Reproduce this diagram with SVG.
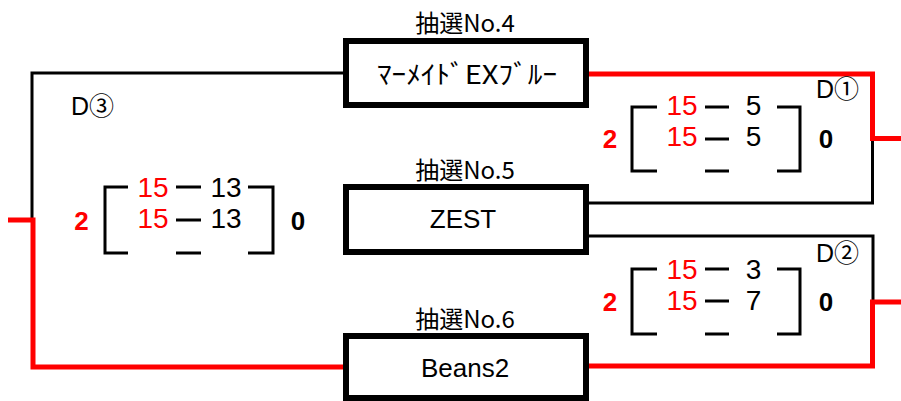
<svg xmlns="http://www.w3.org/2000/svg" width="901" height="401" viewBox="0 0 901 401">
<style>
.box{fill:#fff;stroke:#000;stroke-width:6}
.lbl{font-family:"Noto Sans CJK JP","Liberation Sans",sans-serif;font-size:24px;fill:#000;text-anchor:middle}
.name{font-family:"Liberation Sans","Noto Sans CJK JP",sans-serif;font-size:26px;fill:#000;text-anchor:middle}
.kana{font-family:"Noto Sans CJK JP",sans-serif;font-size:26px;fill:#000;text-anchor:middle}
.blk{fill:none;stroke:#000;stroke-width:3}
.red{fill:none;stroke:#ff0000;stroke-width:5}
.br{fill:none;stroke:#000;stroke-width:3}
.sc{font-family:"Liberation Sans",sans-serif;font-size:28px;text-anchor:middle}
.sr{fill:#ff0000}
.sb{fill:#000}
.tot{font-family:"Liberation Sans",sans-serif;font-size:26px;font-weight:bold;text-anchor:middle}
.d{font-family:"Liberation Sans","Noto Sans CJK JP",sans-serif;font-size:25px;fill:#000}
</style>
<g id="connectors">
<path class="blk" d="M343,73 H32 V219"/>
<path class="red" d="M8,220 H33 V367 H343"/>
<path class="red" d="M589,74 H872.5 V138.5 H901"/>
<path class="blk" d="M872.5,141 V203 H589"/>
<path class="blk" d="M589,236 H873 V300"/>
<path class="red" d="M901,302 H872.5 V366 H589"/>
</g>
<g id="node-no4">
<rect class="box" x="346" y="41" width="240" height="64"/>
<text class="lbl" x="465" y="32">抽選No.4</text>
<text class="kana" x="467" y="84" textLength="180" lengthAdjust="spacingAndGlyphs">ﾏｰﾒｲﾄﾞEXﾌﾞﾙｰ</text>
</g>
<g id="node-no5">
<rect class="box" x="346" y="187" width="240" height="65"/>
<text class="lbl" x="465" y="179">抽選No.5</text>
<text class="name" x="463" y="228">ZEST</text>
</g>
<g id="node-no6">
<rect class="box" x="346" y="336" width="240" height="62"/>
<text class="lbl" x="465" y="328">抽選No.6</text>
<text class="name" x="465" y="377">Beans2</text>
</g>
<g id="score-d1">
<text class="d" x="816" y="98">D①</text>
<path class="br" d="M657,107 H632 V171 H657 M777,107 H800 V171 H777 M705,107 H729 M705,139 H729 M705,171 H729"/>
<text class="sc sr" x="682" y="115">15</text>
<text class="sc sb" x="753.5" y="115">5</text>
<text class="sc sr" x="682" y="146">15</text>
<text class="sc sb" x="753.5" y="146">5</text>
<text class="tot sr" x="610" y="148">2</text>
<text class="tot sb" x="826" y="148">0</text>
</g>
<g id="score-d2">
<text class="d" x="816" y="262">D②</text>
<path class="br" d="M657,269 H632 V334 H657 M777,269 H800 V334 H777 M705,269 H729 M705,301 H729 M705,334 H729"/>
<text class="sc sr" x="682" y="279">15</text>
<text class="sc sb" x="753.5" y="279">3</text>
<text class="sc sr" x="682" y="310">15</text>
<text class="sc sb" x="753.5" y="310">7</text>
<text class="tot sr" x="610" y="311">2</text>
<text class="tot sb" x="826" y="311">0</text>
</g>
<g id="score-d3">
<text class="d" x="71" y="115">D③</text>
<path class="br" d="M128,187 H105 V253 H128 M248,187 H273 V253 H248 M176,187 H201 M176,220 H201 M176,253 H201"/>
<text class="sc sr" x="153" y="197">15</text>
<text class="sc sb" x="226" y="197">13</text>
<text class="sc sr" x="153" y="228">15</text>
<text class="sc sb" x="226" y="228">13</text>
<text class="tot sr" x="81.5" y="230">2</text>
<text class="tot sb" x="298" y="230">0</text>
</g>
</svg>
